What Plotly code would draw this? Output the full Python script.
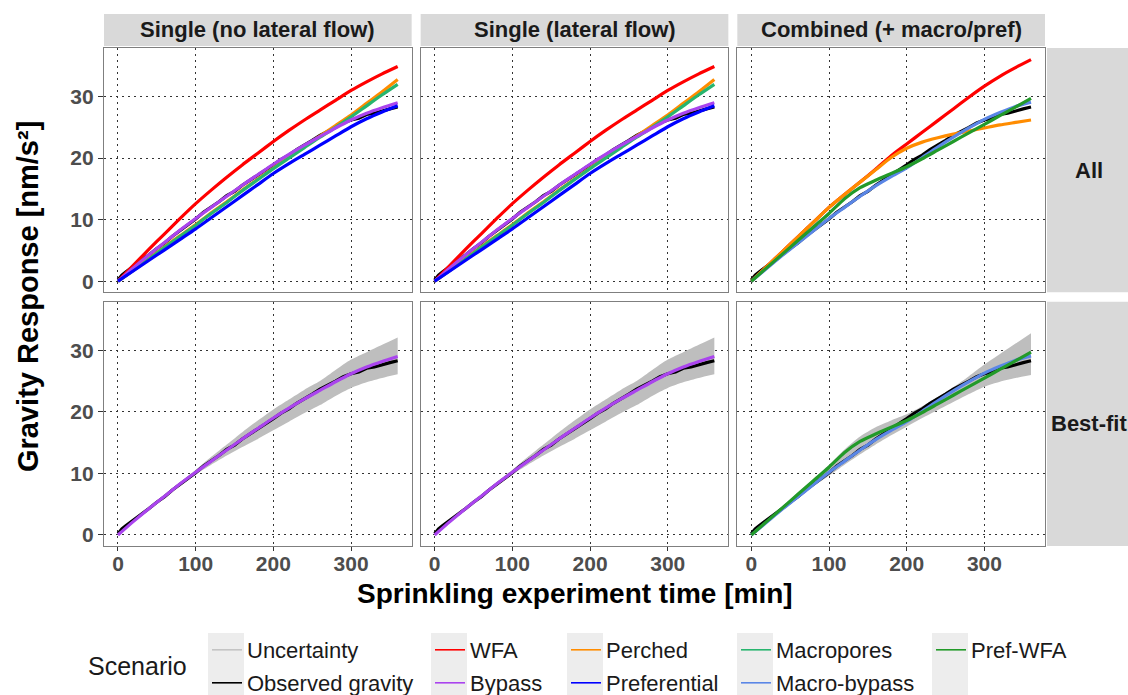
import plotly.graph_objects as go
from plotly.subplots import make_subplots

# ---------------- data ----------------
COLUMNS = ["Single (no lateral flow)", "Single (lateral flow)", "Combined (+ macro/pref)"]
ROWS = ["All", "Best-fit"]
X_TICKS = [0, 100, 200, 300]
Y_TICKS = [0, 10, 20, 30]

OBS_TIME = [0, 5, 10, 20, 30, 40, 50, 60, 70, 80, 90, 100, 110, 120, 130, 140, 150, 160, 170, 180,
            190, 200, 210, 220, 230, 240, 250, 260, 270, 280, 290, 300, 310, 320, 330, 340, 350, 360]
OBSERVED = [0.2, 1.0, 1.5, 2.4, 3.4, 4.3, 5.3, 6.2, 7.3, 8.2, 9.2, 10.1, 11.2, 12.0, 12.9, 13.9, 14.6, 15.6, 16.4, 17.3,
            18.1, 18.9, 19.8, 20.5, 21.4, 22.1, 22.9, 23.7, 24.3, 25.0, 25.7, 26.2, 26.5, 27.1, 27.3, 27.7, 28.0, 28.3]

TIME = [0, 20, 40, 60, 80, 100, 120, 140, 160, 180, 200, 220, 240, 260, 280, 300, 320, 340, 360]

# single-model scenarios
WFA = [0.0, 2.6, 5.2, 7.7, 10.2, 12.6, 14.8, 16.9, 18.9, 20.8, 22.7, 24.5, 26.2, 27.8, 29.4, 31.0, 32.4, 33.7, 34.9]
PERCHED = [0.0, 1.8, 3.7, 5.6, 7.4, 9.2, 11.1, 12.9, 14.8, 16.6, 18.4, 20.2, 21.9, 23.6, 25.3, 27.0, 28.9, 30.8, 32.8]
MACROPORES = [0.0, 1.8, 3.6, 5.5, 7.3, 9.1, 11.0, 12.8, 14.7, 16.5, 18.3, 20.0, 21.7, 23.4, 25.0, 26.7, 28.5, 30.3, 32.0]
BYPASS = [0.0, 2.2, 4.3, 6.3, 8.3, 10.2, 12.0, 13.8, 15.6, 17.3, 19.0, 20.6, 22.1, 23.5, 24.9, 26.2, 27.3, 28.2, 29.0]
PREFERENTIAL = [0.0, 1.7, 3.4, 5.1, 6.8, 8.5, 10.3, 12.1, 13.9, 15.7, 17.5, 19.1, 20.6, 22.1, 23.6, 25.1, 26.4, 27.5, 28.5]

# combined scenarios
WFA_COMB = [0.0, 2.4, 4.8, 7.2, 9.6, 12.0, 14.1, 16.1, 18.2, 20.4, 22.3, 24.2, 26.1, 28.0, 29.9, 31.7, 33.3, 34.7, 36.0]
PERCHED_COMB = [0.0, 2.4, 4.8, 7.2, 9.6, 12.0, 14.1, 16.1, 18.1, 20.1, 21.6, 22.6, 23.3, 23.9, 24.4, 24.9, 25.4, 25.8, 26.2]
MACRO_BYPASS = [0.0, 2.1, 4.2, 6.2, 8.2, 10.2, 12.0, 13.8, 15.5, 17.0, 18.4, 20.1, 21.8, 23.4, 24.9, 26.3, 27.4, 28.4, 29.1]
PREF_WFA = [0.0, 2.2, 4.4, 6.6, 8.8, 11.0, 13.4, 15.2, 16.4, 17.5, 18.6, 19.9, 21.3, 22.7, 24.1, 25.5, 26.9, 28.3, 29.7]

# uncertainty bands of best-fit runs
UNC_SINGLE_LO = [0.0, 2.0, 4.1, 6.1, 8.0, 9.8, 11.4, 12.9, 14.3, 15.6, 17.0, 18.4, 19.8, 21.1, 22.6, 23.9, 24.8, 25.5, 26.1]
UNC_SINGLE_HI = [0.4, 2.5, 4.6, 6.6, 8.6, 10.6, 12.7, 14.7, 16.7, 18.6, 20.4, 22.0, 23.6, 25.0, 26.8, 28.5, 29.7, 30.9, 32.1]
UNC_COMB_LO = [0.0, 2.0, 4.0, 6.0, 7.9, 9.6, 11.4, 13.1, 14.7, 16.2, 17.6, 19.0, 20.3, 21.6, 22.9, 24.1, 24.9, 25.5, 26.0]
UNC_COMB_HI = [0.4, 2.5, 4.7, 6.9, 9.1, 11.4, 13.9, 16.0, 17.5, 18.6, 19.6, 20.9, 22.4, 24.0, 25.8, 27.7, 29.4, 31.1, 32.8]

COLORS = {
    "Uncertainty": "#C4C4C4",
    "Observed gravity": "#000000",
    "WFA": "#FF0000",
    "Bypass": "#AA44EE",
    "Perched": "#FF8C00",
    "Preferential": "#0000FF",
    "Macropores": "#27B56E",
    "Macro-bypass": "#5A86E6",
    "Pref-WFA": "#229A29",
}
BAND_FILL = "#BEBEBE"

# ---------------- figure ----------------
W, H = 1128, 695
ML, MR, MT, MB = 104, 83, 48, 149
PW = W - ML - MR
PH = H - MT - MB


def px_x(px):
    return (px - ML) / PW


def px_y(py):
    return (H - MB - py) / PH


fig = make_subplots(rows=2, cols=3, horizontal_spacing=9 / PW, vertical_spacing=9.5 / PH)

LW = 3.2


def add_line(t, y, name, row, col):
    fig.add_trace(go.Scatter(x=t, y=y, mode="lines", name=name, showlegend=False,
                             line=dict(color=COLORS[name], width=LW, shape="spline", smoothing=0.6),
                             hoverinfo="skip"), row=row, col=col)


def add_band(t, lo, hi, row, col):
    fig.add_trace(go.Scatter(x=t, y=lo, mode="lines", showlegend=False, hoverinfo="skip",
                             line=dict(width=0, shape="spline", smoothing=0.6)), row=row, col=col)
    fig.add_trace(go.Scatter(x=t, y=hi, mode="lines", showlegend=False, hoverinfo="skip", fill="tonexty",
                             fillcolor=BAND_FILL, line=dict(width=0, shape="spline", smoothing=0.6)),
                  row=row, col=col)


def add_obs(row, col):
    fig.add_trace(go.Scatter(x=OBS_TIME, y=OBSERVED, mode="lines", showlegend=False, hoverinfo="skip",
                             line=dict(color=COLORS["Observed gravity"], width=LW)), row=row, col=col)


# row 1: all scenarios
for c in (1, 2):
    add_obs(1, c)
    add_line(TIME, WFA, "WFA", 1, c)
    add_line(TIME, PERCHED, "Perched", 1, c)
    add_line(TIME, MACROPORES, "Macropores", 1, c)
    add_line(TIME, BYPASS, "Bypass", 1, c)
    add_line(TIME, PREFERENTIAL, "Preferential", 1, c)
add_obs(1, 3)
add_line(TIME, WFA_COMB, "WFA", 1, 3)
add_line(TIME, PERCHED_COMB, "Perched", 1, 3)
add_line(TIME, MACRO_BYPASS, "Macro-bypass", 1, 3)
add_line(TIME, PREF_WFA, "Pref-WFA", 1, 3)

# row 2: best fit
for c in (1, 2):
    add_band(TIME, UNC_SINGLE_LO, UNC_SINGLE_HI, 2, c)
    add_obs(2, c)
    add_line(TIME, BYPASS, "Bypass", 2, c)
add_band(TIME, UNC_COMB_LO, UNC_COMB_HI, 2, 3)
add_obs(2, 3)
add_line(TIME, MACRO_BYPASS, "Macro-bypass", 2, 3)
add_line(TIME, PREF_WFA, "Pref-WFA", 2, 3)

# ---------------- legend (one small legend per entry) ----------------
LEG_COLS = [["Uncertainty", "Observed gravity"], ["WFA", "Bypass"], ["Perched", "Preferential"],
            ["Macropores", "Macro-bypass"], ["Pref-WFA"]]
TEXT_START = [247, 470, 606, 776, 971]
ROW_Y = [650, 683]
FONT = "Liberation Sans, Arial, sans-serif"
k = 0
legend_layouts = {}
shapes = []
for ci, names in enumerate(LEG_COLS):
    lx = TEXT_START[ci] - 40
    shapes.append(dict(type="rect", xref="paper", yref="paper",
                       x0=px_x(lx + 1), x1=px_x(lx + 37), y0=px_y(633), y1=px_y(700),
                       fillcolor="#EDEDED", line=dict(width=0), layer="below"))
    for ri, nm in enumerate(names):
        k += 1
        lname = "legend" if k == 1 else f"legend{k}"
        fig.add_trace(go.Scatter(x=[None], y=[None], mode="lines", name=nm, legend=lname,
                                 line=dict(color=COLORS[nm], width=1.6), showlegend=True,
                                 hoverinfo="skip"), row=1, col=1)
        legend_layouts[lname] = dict(x=px_x(lx), y=px_y(ROW_Y[ri]), xanchor="left", yanchor="middle",
                                     bgcolor="rgba(0,0,0,0)", borderwidth=0, itemwidth=30,
                                     font=dict(family=FONT, size=22, color="#1A1A1A"))

# ---------------- axes ----------------
for r in (1, 2):
    for c in (1, 2, 3):
        fig.update_xaxes(row=r, col=c, range=[-18, 378], tickvals=X_TICKS, showgrid=True,
                         gridcolor="#333333", gridwidth=1.3, griddash="2px,4px", zeroline=False,
                         showline=True, mirror=True, linecolor="#7F7F7F", linewidth=1.2,
                         showticklabels=(r == 2), ticks="outside" if r == 2 else "",
                         ticklen=4, tickwidth=1.2, tickcolor="#333333", ticklabelstandoff=-5,
                         tickfont=dict(family=FONT, size=21, color="#4D4D4D", weight="bold"))
        fig.update_yaxes(row=r, col=c, range=[-1.8, 37.9], tickvals=Y_TICKS, showgrid=True,
                         gridcolor="#333333", gridwidth=1.3, griddash="2px,4px", zeroline=False,
                         showline=True, mirror=True, linecolor="#7F7F7F", linewidth=1.2,
                         showticklabels=(c == 1), ticks="outside" if c == 1 else "",
                         ticklen=5, tickwidth=1.2, tickcolor="#333333",
                         tickfont=dict(family=FONT, size=21, color="#4D4D4D", weight="bold"))

# ---------------- strips ----------------
annotations = []
xdom = ["x", "x2", "x3"]
for i, title in enumerate(COLUMNS):
    shapes.append(dict(type="rect", xref=f"{xdom[i]} domain", yref="paper", x0=0, x1=1,
                       y0=px_y(46), y1=px_y(14), fillcolor="#D9D9D9", line=dict(width=0)))
    annotations.append(dict(text=title, xref=f"{xdom[i]} domain", yref="paper", x=0.5, y=px_y(30),
                            xanchor="center", yanchor="middle", showarrow=False,
                            font=dict(family=FONT, size=22, color="#1A1A1A", weight="bold")))
for yref, label in (("y", "All"), ("y4", "Best-fit")):
    shapes.append(dict(type="rect", xref="paper", yref=f"{yref} domain", x0=px_x(1047), x1=px_x(1140),
                       y0=0, y1=1, fillcolor="#D9D9D9", line=dict(width=0)))
    annotations.append(dict(text=label, xref="paper", yref=f"{yref} domain", x=px_x(1089), y=0.5,
                            xanchor="center", yanchor="middle", showarrow=False,
                            font=dict(family=FONT, size=22, color="#1A1A1A", weight="bold")))

# axis titles and legend title
annotations.append(dict(text="Gravity Response [nm/s²]", xref="paper", yref="paper", x=px_x(28), y=0.5,
                        xanchor="center", yanchor="middle", textangle=-90, showarrow=False,
                        font=dict(family=FONT, size=29, color="#000000", weight="bold")))
annotations.append(dict(text="Sprinkling experiment time [min]", xref="paper", yref="paper", x=0.5,
                        y=px_y(593), xanchor="center", yanchor="middle", showarrow=False,
                        font=dict(family=FONT, size=28, color="#000000", weight="bold")))
annotations.append(dict(text="Scenario", xref="paper", yref="paper", x=px_x(137), y=px_y(666),
                        xanchor="center", yanchor="middle", showarrow=False,
                        font=dict(family=FONT, size=25, color="#1A1A1A")))

fig.update_layout(width=W, height=H, margin=dict(l=ML, r=MR, t=MT, b=MB, autoexpand=False),
                  paper_bgcolor="white", plot_bgcolor="white", showlegend=True,
                  font=dict(family=FONT), shapes=shapes, annotations=annotations, **legend_layouts)

fig.write_html("out.html")
